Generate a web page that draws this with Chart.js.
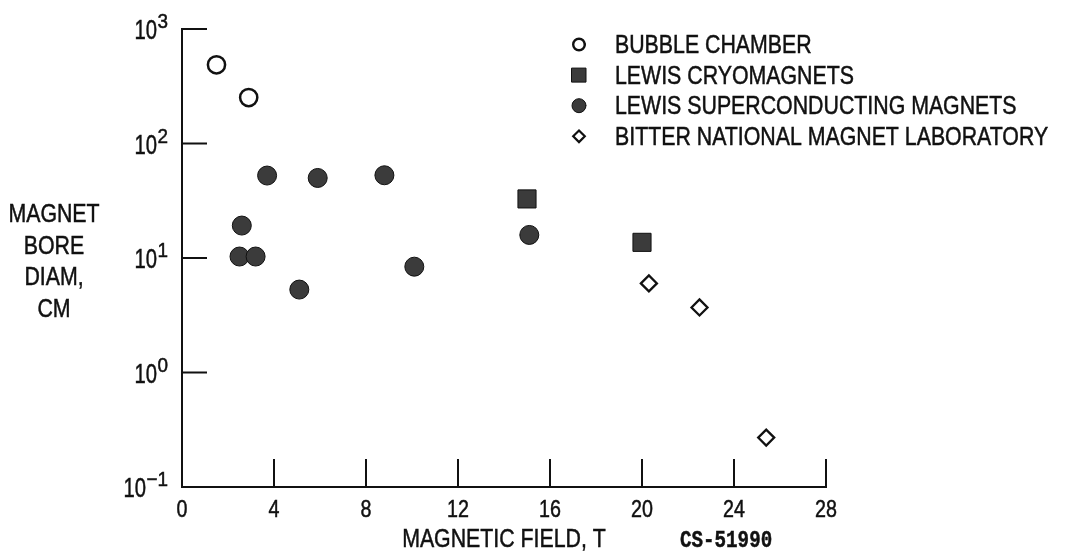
<!DOCTYPE html>
<html>
<head>
<meta charset="utf-8">
<title>Magnet bore diameter vs magnetic field</title>
<script src="https://cdn.jsdelivr.net/npm/chart.js@4/dist/chart.umd.min.js"></script>
<style>
  html, body { margin: 0; padding: 0; background: #fff; }
  #wrap { width: 1074px; height: 556px; }
</style>
</head>
<body>
<div id="wrap"><canvas id="chart" width="1074" height="556"></canvas></div>
<script>
// Magnetic field (T) and bore diameter (cm) for each magnet family
const bubbleField = [1.5, 2.9];
const bubbleBore  = [487, 252];
const cryoField   = [15.0, 20.0];
const cryoBore    = [32.8, 13.7];
const scField     = [3.7, 5.9, 8.8, 2.6, 2.5, 3.2, 5.1, 10.1, 15.1];
const scBore      = [52.5, 50, 52.8, 19.2, 10.3, 10.3, 5.3, 8.4, 15.9];
const bitterField = [20.3, 22.5, 25.4];
const bitterBore  = [6.0, 3.7, 0.27];

// Axis ticks
const xTicks = [0, 4, 8, 12, 16, 20, 24, 28];
const yExponents = [-1, 0, 1, 2, 3];

const seriesLabels = [
  'BUBBLE CHAMBER',
  'LEWIS CRYOMAGNETS',
  'LEWIS SUPERCONDUCTING MAGNETS',
  'BITTER NATIONAL MAGNET LABORATORY'
];
const yTitleLines = ['MAGNET', 'BORE', 'DIAM,', 'CM'];
const xTitle = 'MAGNETIC FIELD, T';
const figureId = 'CS-51990';

const FONT = "'Liberation Sans', Arial, sans-serif";
const MONO = "'Liberation Mono', 'DejaVu Sans Mono', monospace";
const NARROW = 0.82;          // horizontal squeeze giving a condensed face
const INK = '#111';
const FILL = '#3b3b3b';

const toPoints = (xs, ys) => xs.map((x, i) => ({ x, y: ys[i] }));

// Condensed text: draws t squeezed horizontally by sx, returns drawn width
function say(ctx, t, x, y, align, sx) {
  const w = ctx.measureText(t).width * sx;
  let left = x;
  if (align === 'center') left = x - w / 2;
  else if (align === 'right') left = x - w;
  ctx.save();
  ctx.translate(left, y);
  ctx.scale(sx, 1);
  ctx.textAlign = 'left';
  ctx.fillText(t, 0, 0);
  ctx.lineWidth = 0.5;
  ctx.strokeStyle = ctx.fillStyle;
  ctx.strokeText(t, 0, 0);
  ctx.restore();
  return w;
}

// Draws a legend marker of the given style
function marker(ctx, style, x, y) {
  ctx.save();
  ctx.strokeStyle = INK;
  ctx.beginPath();
  if (style === 'open') {
    ctx.lineWidth = 2.4;
    ctx.arc(x, y, 5.8, 0, Math.PI * 2);
    ctx.fillStyle = '#fff';
    ctx.fill();
    ctx.stroke();
  } else if (style === 'square') {
    ctx.lineWidth = 1;
    ctx.rect(x - 7, y - 7, 14, 14);
    ctx.fillStyle = FILL;
    ctx.fill();
    ctx.stroke();
  } else if (style === 'disc') {
    ctx.lineWidth = 1;
    ctx.arc(x, y, 7, 0, Math.PI * 2);
    ctx.fillStyle = FILL;
    ctx.fill();
    ctx.stroke();
  } else {
    ctx.lineWidth = 2.2;
    ctx.moveTo(x, y - 5.8);
    ctx.lineTo(x + 5.8, y);
    ctx.lineTo(x, y + 5.8);
    ctx.lineTo(x - 5.8, y);
    ctx.closePath();
    ctx.fillStyle = '#fff';
    ctx.fill();
    ctx.stroke();
  }
  ctx.restore();
}

// Axes with inward ticks, superscript decade labels, titles and legend
const frame = {
  id: 'frame',
  beforeDatasetsDraw(chart) {
    const ctx = chart.ctx;
    const xs = chart.scales.x, ys = chart.scales.y;
    const x0 = xs.getPixelForValue(xTicks[0]);
    const x1 = xs.getPixelForValue(xTicks[xTicks.length - 1]);
    const yb = ys.getPixelForValue(Math.pow(10, yExponents[0]));
    const yt = ys.getPixelForValue(Math.pow(10, yExponents[yExponents.length - 1]));
    ctx.save();
    ctx.strokeStyle = INK;
    ctx.lineWidth = 2;
    ctx.lineCap = 'square';
    ctx.beginPath();
    ctx.moveTo(x0, yt);
    ctx.lineTo(x0, yb);
    ctx.lineTo(x1, yb);
    ctx.stroke();
    ctx.beginPath();
    xTicks.slice(1).forEach(v => {
      const px = xs.getPixelForValue(v);
      ctx.moveTo(px, yb);
      ctx.lineTo(px, yb - 27);
    });
    yExponents.slice(1).forEach(e => {
      const py = ys.getPixelForValue(Math.pow(10, e));
      ctx.moveTo(x0, py);
      ctx.lineTo(x0 + 24, py);
    });
    ctx.stroke();

    ctx.fillStyle = INK;
    ctx.textBaseline = 'alphabetic';
    // x tick labels
    ctx.font = '24px ' + FONT;
    xTicks.forEach(v => say(ctx, String(v), xs.getPixelForValue(v), yb + 30, 'center', NARROW));
    // y decade labels
    yExponents.forEach(e => {
      const py = ys.getPixelForValue(Math.pow(10, e));
      const sup = e < 0 ? '\u2212' + Math.abs(e) : String(e);
      ctx.font = '21px ' + FONT;
      const w = say(ctx, sup, x0 - 14, py - 1, 'right', 0.9);
      ctx.font = '27px ' + FONT;
      say(ctx, '10', x0 - 14 - w - 0.5, py + 10, 'right', 0.75);
    });
    // y title
    ctx.font = '26px ' + FONT;
    yTitleLines.forEach((t, i) => say(ctx, t, 54, 222 + i * 31.5, 'center', NARROW));
    // x title and figure number
    say(ctx, xTitle, 504, 547, 'center', NARROW);
    ctx.font = 'bold 24px ' + MONO;
    say(ctx, figureId, 680, 547, 'left', 0.8);
    // legend
    const styles = ['open', 'square', 'disc', 'diamond'];
    ctx.font = '26px ' + FONT;
    seriesLabels.forEach((t, i) => {
      const base = 53 + i * 30.6;
      marker(ctx, styles[i], 579, base - 8.5);
      ctx.fillStyle = INK;
      say(ctx, t, 615, base, 'left', NARROW);
    });
    ctx.restore();
  }
};

new Chart(document.getElementById('chart'), {
  type: 'scatter',
  data: {
    datasets: [
      {
        label: seriesLabels[0],
        data: toPoints(bubbleField, bubbleBore),
        pointStyle: 'circle', pointRadius: 8.6,
        backgroundColor: '#fff', borderColor: INK, borderWidth: 2.5
      },
      {
        label: seriesLabels[1],
        data: toPoints(cryoField, cryoBore),
        pointStyle: 'rect', pointRadius: 12.8,
        backgroundColor: FILL, borderColor: INK, borderWidth: 1
      },
      {
        label: seriesLabels[2],
        data: toPoints(scField, scBore),
        pointStyle: 'circle', pointRadius: 9.5,
        backgroundColor: FILL, borderColor: INK, borderWidth: 1
      },
      {
        label: seriesLabels[3],
        data: toPoints(bitterField, bitterBore),
        pointStyle: 'rectRot', pointRadius: 8,
        backgroundColor: '#fff', borderColor: INK, borderWidth: 2.3
      }
    ]
  },
  options: {
    responsive: false,
    animation: false,
    devicePixelRatio: 1,
    events: [],
    clip: false,
    layout: { padding: { left: 182, right: 248, top: 29, bottom: 69 } },
    plugins: { legend: { display: false }, tooltip: { enabled: false } },
    scales: {
      x: { type: 'linear', min: 0, max: 28, display: false },
      y: { type: 'logarithmic', min: 0.1, max: 1000, display: false }
    }
  },
  plugins: [frame]
});
</script>
</body>
</html>
